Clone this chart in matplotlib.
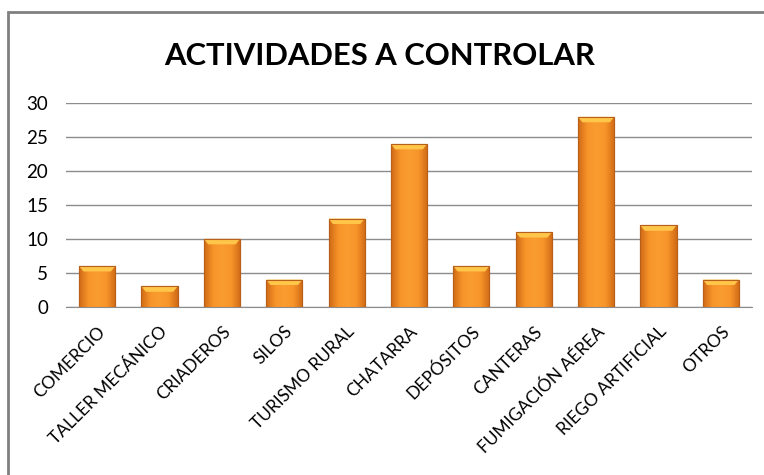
import matplotlib.pyplot as plt
import numpy as np
from matplotlib.colors import LinearSegmentedColormap
from matplotlib.patches import Polygon, Rectangle

plt.rcParams['font.family'] = ['Lato', 'DejaVu Sans']

categorias = ['COMERCIO', 'TALLER MECÁNICO', 'CRIADEROS', 'SILOS', 'TURISMO RURAL',
              'CHATARRA', 'DEPÓSITOS', 'CANTERAS', 'FUMIGACIÓN AÉREA',
              'RIEGO ARTIFICIAL', 'OTROS']
valores = [6, 3, 10, 4, 13, 24, 6, 11, 28, 12, 4]
yticks = [0, 5, 10, 15, 20, 25, 30]

fig = plt.figure(figsize=[7.64, 4.75], dpi=100)
ax = fig.add_axes([66/764, 1-306.7/475, 686/764, 203.4/475])

x = np.arange(len(categorias))
bars = ax.bar(x, valores, width=0.58, color='#F39325', edgecolor='#B8601A',
              linewidth=0.8, zorder=3)

# horizontal shading on each bar, lighter bevel on top
cmap = LinearSegmentedColormap.from_list('naranja', ['#D06A16', '#F7952A', '#FA9C30', '#F7952A', '#D06A16'])
grad = np.linspace(0, 1, 64).reshape(1, -1)
bev = 0.8
for b in bars:
    x0, w, h = b.get_x(), b.get_width(), b.get_height()
    im = ax.imshow(grad, cmap=cmap, aspect='auto', extent=[x0, x0+w, 0, h], zorder=3.5)
    im.set_clip_path(b)
    d = w*0.12
    top = Polygon([[x0, h], [x0+w, h], [x0+w-d, h-bev], [x0+d, h-bev]],
                  closed=True, facecolor='#FFC64A', edgecolor='none', zorder=4)
    ax.add_patch(top)
    ax.add_patch(Rectangle((x0, 0), w, h, fill=False, edgecolor='#B8601A', linewidth=0.8, zorder=4.5))

ax.set_xlim(-0.5, len(categorias)-0.5)
ax.set_ylim(0, 30)
ax.set_yticks(yticks)
ax.yaxis.grid(True, color='#8C8C8C', linewidth=1.0, zorder=0)
ax.set_axisbelow(True)
for s in ['top', 'right', 'left']:
    ax.spines[s].set_visible(False)
ax.spines['bottom'].set_color('#8C8C8C')
ax.tick_params(axis='both', length=0, colors='black')
ax.tick_params(axis='y', pad=13, labelsize=13.5)
ax.set_xticks(x)
ax.set_xticklabels(categorias, rotation=45, ha='right', rotation_mode='anchor', fontsize=12.5)
ax.tick_params(axis='x', pad=12)

fig.text(380/764, 1-56/475, 'ACTIVIDADES A CONTROLAR', ha='center', va='center',
         fontsize=22.3, fontweight='bold')

fig.patches.append(Rectangle((8/764, -0.1), 1.2, 1-12/475+0.1, transform=fig.transFigure,
                             fill=False, edgecolor='#808080', linewidth=2))

fig.savefig('out.png', dpi=100)
